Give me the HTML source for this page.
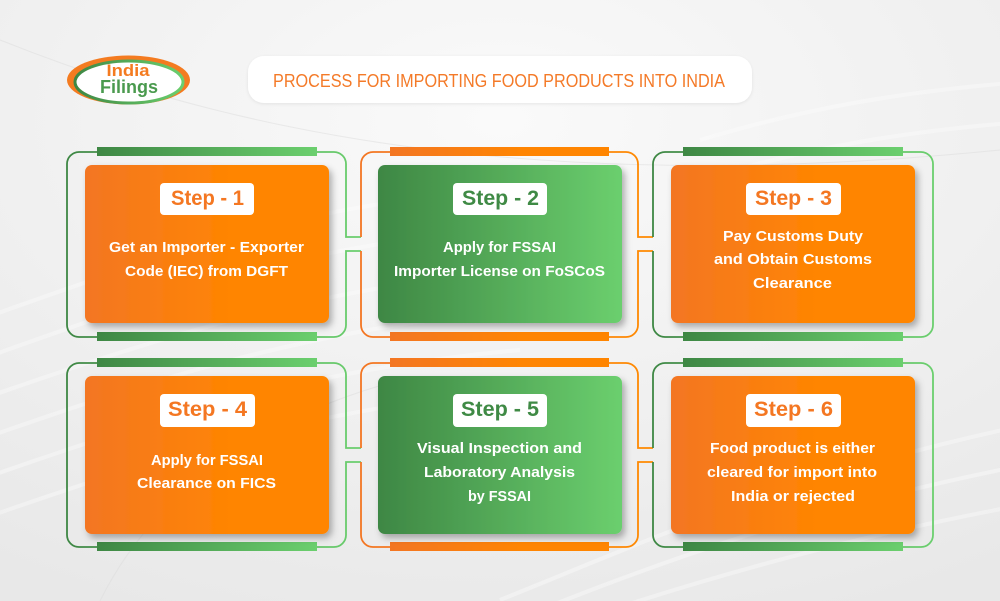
<!DOCTYPE html>
<html><head><meta charset="utf-8"><style>
html,body{margin:0;padding:0;width:1000px;height:601px;overflow:hidden;background:#eeeeee}
svg{display:block}
text{font-family:"Liberation Sans",sans-serif}
</style></head><body>
<svg width="1000" height="601" viewBox="0 0 1000 601" xmlns="http://www.w3.org/2000/svg">
<defs>
<radialGradient id="bg" cx="0.5" cy="0.2" r="0.9">
<stop offset="0" stop-color="#fafafa"/><stop offset="0.6" stop-color="#efefef"/><stop offset="1" stop-color="#e8e8e8"/>
</radialGradient>
<linearGradient id="og" x1="0" y1="0" x2="1" y2="0"><stop offset="0" stop-color="#f37623"/><stop offset="0.6" stop-color="#ff8502"/><stop offset="1" stop-color="#ff8500"/></linearGradient>
<linearGradient id="gg" x1="0" y1="0" x2="1" y2="0"><stop offset="0" stop-color="#3e8744"/><stop offset="1" stop-color="#6bcf6e"/></linearGradient>
<linearGradient id="gs1" gradientUnits="userSpaceOnUse" x1="67" y1="0" x2="361" y2="0"><stop offset="0" stop-color="#3e8744"/><stop offset="1" stop-color="#6bcf6e"/></linearGradient>
<linearGradient id="os2" gradientUnits="userSpaceOnUse" x1="361" y1="0" x2="653" y2="0"><stop offset="0" stop-color="#f37623"/><stop offset="1" stop-color="#ff8a00"/></linearGradient>
<linearGradient id="gs3" gradientUnits="userSpaceOnUse" x1="653" y1="0" x2="933" y2="0"><stop offset="0" stop-color="#3e8744"/><stop offset="1" stop-color="#6bcf6e"/></linearGradient>
<filter id="sh" x="-10%" y="-10%" width="125%" height="130%"><feDropShadow dx="3" dy="4" stdDeviation="3.5" flood-color="#000" flood-opacity="0.3"/></filter>
<filter id="sh2" x="-10%" y="-10%" width="120%" height="140%"><feDropShadow dx="0" dy="1" stdDeviation="1.5" flood-color="#000" flood-opacity="0.08"/></filter>
</defs>
<rect width="1000" height="601" fill="url(#bg)"/>
<g fill="none" stroke="#ffffff" stroke-width="4" opacity="0.35">
<path d="M-50,330 C150,260 300,200 520,190"/>
<path d="M-50,370 C150,300 300,240 520,230"/>
<path d="M-50,410 C150,340 300,290 520,270"/>
<path d="M-50,450 C150,380 300,330 520,310"/>
<path d="M-50,490 C150,420 300,370 520,350"/>
<path d="M-50,530 C150,460 300,410 520,390"/>
<path d="M500,600 C650,540 800,470 1050,420"/>
<path d="M540,610 C690,550 840,500 1050,460"/>
<path d="M580,620 C730,570 880,530 1050,500"/>
<path d="M700,140 C800,110 900,90 1050,80"/>
<path d="M700,180 C800,150 900,130 1050,120"/>
</g>
<g fill="none" stroke="#dcdcdc" stroke-width="1" opacity="0.5">
<path d="M0,40 C200,120 500,200 1000,150"/>
<path d="M100,601 C150,500 250,420 400,380"/>
</g>

<!-- Logo -->
<ellipse cx="128.5" cy="80" rx="61.5" ry="24.5" fill="#f47b20"/>
<ellipse cx="129" cy="82" rx="54" ry="21" fill="#fff" stroke="url(#gg)" stroke-width="3"/>
<text x="128" y="76" font-size="17" font-weight="bold" fill="#f47b20" text-anchor="middle" textLength="43" lengthAdjust="spacingAndGlyphs">India</text>
<text x="129" y="93" font-size="18" font-weight="bold" fill="#4a9a4e" text-anchor="middle" textLength="58" lengthAdjust="spacingAndGlyphs">Filings</text>

<!-- Title -->
<rect x="248" y="56" width="504" height="47" rx="16" fill="#fff" filter="url(#sh2)"/>
<text x="499" y="87" font-size="18" fill="#f47a28" text-anchor="middle" textLength="452" lengthAdjust="spacingAndGlyphs">PROCESS FOR IMPORTING FOOD PRODUCTS INTO INDIA</text>

<!-- Frames -->
<g fill="none" stroke-width="1.8">
<path stroke="url(#gs1)" d="M79,152 H334 A12,12 0 0 1 346,164 V237 H361 M361,251 H346 V325 A12,12 0 0 1 334,337 H79 A12,12 0 0 1 67,325 V164 A12,12 0 0 1 79,152"/>
<path stroke="url(#os2)" d="M373,152 H626 A12,12 0 0 1 638,164 V237 H653 M653,251 H638 V325 A12,12 0 0 1 626,337 H373 A12,12 0 0 1 361,325 V251 M361,237 V164 A12,12 0 0 1 373,152"/>
<path stroke="url(#gs3)" d="M665,152 H921 A12,12 0 0 1 933,164 V325 A12,12 0 0 1 921,337 H665 A12,12 0 0 1 653,325 V251 M653,237 V164 A12,12 0 0 1 665,152"/>
<path stroke="url(#gs1)" d="M79,363 H334 A12,12 0 0 1 346,375 V448 H361 M361,462 H346 V535 A12,12 0 0 1 334,547 H79 A12,12 0 0 1 67,535 V375 A12,12 0 0 1 79,363"/>
<path stroke="url(#os2)" d="M373,363 H626 A12,12 0 0 1 638,375 V448 H653 M653,462 H638 V535 A12,12 0 0 1 626,547 H373 A12,12 0 0 1 361,535 V462 M361,448 V375 A12,12 0 0 1 373,363"/>
<path stroke="url(#gs3)" d="M665,363 H921 A12,12 0 0 1 933,375 V535 A12,12 0 0 1 921,547 H665 A12,12 0 0 1 653,535 V462 M653,448 V375 A12,12 0 0 1 665,363"/>
</g>

<!-- Bars -->
<rect x="97" y="147" width="220" height="9" fill="url(#gg)"/>
<rect x="97" y="332" width="220" height="9" fill="url(#gg)"/>
<rect x="390" y="147" width="219" height="9" fill="url(#og)"/>
<rect x="390" y="332" width="219" height="9" fill="url(#og)"/>
<rect x="683" y="147" width="220" height="9" fill="url(#gg)"/>
<rect x="683" y="332" width="220" height="9" fill="url(#gg)"/>
<rect x="97" y="358" width="220" height="9" fill="url(#gg)"/>
<rect x="97" y="542" width="220" height="9" fill="url(#gg)"/>
<rect x="390" y="358" width="219" height="9" fill="url(#og)"/>
<rect x="390" y="542" width="219" height="9" fill="url(#og)"/>
<rect x="683" y="358" width="220" height="9" fill="url(#gg)"/>
<rect x="683" y="542" width="220" height="9" fill="url(#gg)"/>

<!-- Cards -->
<g filter="url(#sh)">
<rect x="85" y="165" width="244" height="158" rx="7" fill="url(#og)"/>
<rect x="378" y="165" width="244" height="158" rx="7" fill="url(#gg)"/>
<rect x="671" y="165" width="244" height="158" rx="7" fill="url(#og)"/>
<rect x="85" y="376" width="244" height="158" rx="7" fill="url(#og)"/>
<rect x="378" y="376" width="244" height="158" rx="7" fill="url(#gg)"/>
<rect x="671" y="376" width="244" height="158" rx="7" fill="url(#og)"/>
</g>

<!-- Badges -->
<g fill="#fff">
<rect x="160" y="183" width="94" height="32" rx="4"/>
<rect x="453" y="183" width="94" height="32" rx="4"/>
<rect x="746" y="183" width="95" height="32" rx="4"/>
<rect x="160" y="394" width="95" height="33" rx="4"/>
<rect x="453" y="394" width="94" height="33" rx="4"/>
<rect x="746" y="394" width="95" height="33" rx="4"/>
</g>
<g font-size="21" font-weight="bold" text-anchor="middle">
<text x="207.5" y="205" fill="#f47722" textLength="73" lengthAdjust="spacingAndGlyphs">Step - 1</text>
<text x="500.5" y="205" fill="#3f8a45" textLength="77" lengthAdjust="spacingAndGlyphs">Step - 2</text>
<text x="793.5" y="205" fill="#f47722" textLength="77" lengthAdjust="spacingAndGlyphs">Step - 3</text>
<text x="207.5" y="416" fill="#f47722" textLength="79" lengthAdjust="spacingAndGlyphs">Step - 4</text>
<text x="500" y="416" fill="#3f8a45" textLength="78" lengthAdjust="spacingAndGlyphs">Step - 5</text>
<text x="793.5" y="416" fill="#f47722" textLength="79" lengthAdjust="spacingAndGlyphs">Step - 6</text>
</g>

<!-- Body text -->
<g font-size="14.5" font-weight="bold" fill="#fff" text-anchor="middle">
<text x="206.5" y="252" textLength="195" lengthAdjust="spacingAndGlyphs">Get an Importer - Exporter</text>
<text x="206.5" y="276" textLength="163" lengthAdjust="spacingAndGlyphs">Code (IEC) from DGFT</text>
<text x="499.5" y="252" textLength="113" lengthAdjust="spacingAndGlyphs">Apply for FSSAI</text>
<text x="499.5" y="276" textLength="211" lengthAdjust="spacingAndGlyphs">Importer License on FoSCoS</text>
<text x="793" y="241" textLength="140" lengthAdjust="spacingAndGlyphs">Pay Customs Duty</text>
<text x="793" y="264" textLength="158" lengthAdjust="spacingAndGlyphs">and Obtain Customs</text>
<text x="792.5" y="288" textLength="79" lengthAdjust="spacingAndGlyphs">Clearance</text>
<text x="207" y="465" textLength="112" lengthAdjust="spacingAndGlyphs">Apply for FSSAI</text>
<text x="206.5" y="488" textLength="139" lengthAdjust="spacingAndGlyphs">Clearance on FICS</text>
<text x="499.5" y="453" textLength="165" lengthAdjust="spacingAndGlyphs">Visual Inspection and</text>
<text x="499.5" y="477" textLength="151" lengthAdjust="spacingAndGlyphs">Laboratory Analysis</text>
<text x="499.5" y="501" textLength="63" lengthAdjust="spacingAndGlyphs">by FSSAI</text>
<text x="792.5" y="453" textLength="165" lengthAdjust="spacingAndGlyphs">Food product is either</text>
<text x="792" y="477" textLength="170" lengthAdjust="spacingAndGlyphs">cleared for import into</text>
<text x="793" y="501" textLength="124" lengthAdjust="spacingAndGlyphs">India or rejected</text>
</g>
</svg>
</body></html>
